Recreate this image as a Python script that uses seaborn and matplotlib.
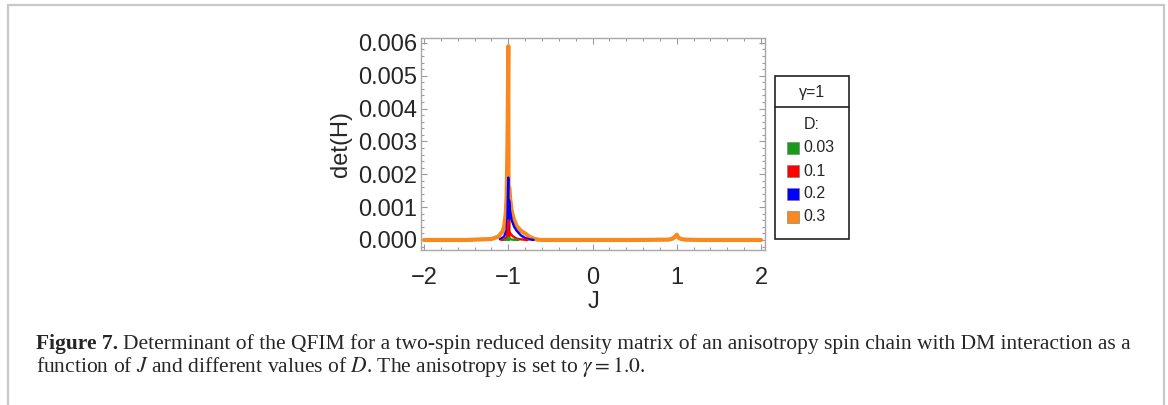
import numpy as np
import pandas as pd
import matplotlib
matplotlib.use("Agg")
import matplotlib.pyplot as plt
import seaborn as sns
from matplotlib.patches import Rectangle
from matplotlib.lines import Line2D
from matplotlib.ticker import MultipleLocator, FormatStrFormatter

# ---------------- data ----------------
# (the smaller curves are zero outside the shown J ranges, where the orange curve hides them)
D_LABELS = ["0.03", "0.1", "0.2", "0.3"]
COLORS = ["#1a9a1a", "#ff0000", "#0000ff", "#f7891f"]
GAMMA_LABEL = "γ=1"

J_D003 = [-1.04, -1.03, -1.01, -1.0, -0.996, -0.99, -0.97, -0.95, -0.9, -0.88]
DET_D003 = [0.0, 0.000003, 0.00002, 0.00008, 0.0, 0.00003, 0.00002, 0.00001, 0.000003, 0.0]

J_D01 = [-1.08, -1.05, -1.02, -1.01, -1.0, -0.996, -0.99, -0.97, -0.95, -0.92, -0.9,
         -0.85, -0.8, -0.77]
DET_D01 = [0.0, 0.00001, 0.00008, 0.0002, 0.0006, 0.00001, 0.00025, 0.00018, 0.00012,
           0.00007, 0.00004, 0.00002, 0.000005, 0.0]

J_D02 = [-1.1, -1.05, -1.02, -1.01, -1.0, -0.996, -0.99, -0.98, -0.96, -0.93,
         -0.9, -0.85, -0.8, -0.75, -0.7]
DET_D02 = [0.00002, 0.0001, 0.0003, 0.0007, 0.0019, 0.00002, 0.0012, 0.0009,
           0.0006, 0.0004, 0.00028, 0.00014, 0.00006, 0.00002, 0.0]

J_D03 = [-2.0, -1.5, -1.2, -1.12, -1.07, -1.05, -1.03, -1.02, -1.01, -1.005, -1.0, -0.996,
         -0.99, -0.98, -0.96, -0.95, -0.93, -0.9, -0.85, -0.8, -0.75, -0.7, -0.65, -0.6,
         -0.4, 0.0, 0.5, 0.9, 0.95, 0.98, 1.0, 1.02, 1.05, 1.1, 1.3, 2.0]
DET_D03 = [0.0, 0.0, 0.00003, 0.0001, 0.00025, 0.0004, 0.0008, 0.0013, 0.0028, 0.0042,
           0.0059, 0.00005, 0.0016, 0.0013, 0.0009, 0.00078, 0.0006, 0.00042, 0.00028,
           0.0002, 0.0001, 0.00004, 0.00001, 0.0, 0.0, 0.0, 0.0, 0.00001, 0.00004,
           0.0001, 0.00016, 0.00007, 0.00003, 0.00001, 0.0, 0.0]

SERIES = [(J_D003, DET_D003), (J_D01, DET_D01), (J_D02, DET_D02), (J_D03, DET_D03)]
LINE_WIDTHS = [1.7, 1.7, 1.7, 3.0]

X_LABEL = "J"
Y_LABEL = "det(H)"
CAPTION_BOLD = "Figure 7."
CAPTION_1 = ("Determinant of the QFIM for a two-spin reduced density matrix of an anisotropy "
             "spin chain with DM interaction as a")
CAPTION_2 = ("function of $J$ and different values of $D$. The anisotropy is set to "
             "$\\gamma = 1.0$.")

# ---------------- style ----------------
sns.set_style("ticks")
plt.rcParams["font.family"] = ["Liberation Sans", "DejaVu Sans"]
plt.rcParams["mathtext.fontset"] = "stix"

W, H = 1168, 405
fig = plt.figure(figsize=(W / 100, H / 100), dpi=100)


def fx(x):
    return x / W


def fy(y):
    return 1 - y / H


ax = fig.add_axes([fx(421), fy(250), fx(765) - fx(421), fy(38) - fy(250)])

# widest curve first, smaller ones drawn over it
order = [3, 2, 1, 0]
for z, k in enumerate(order):
    jj, dd = SERIES[k]
    df = pd.DataFrame({"J": jj, "det": dd})
    sns.lineplot(data=df, x="J", y="det", ax=ax, color=COLORS[k], linewidth=LINE_WIDTHS[k],
                 estimator=None, sort=False, legend=False, zorder=2 + z)

ax.set_xlim(-2.036, 2.047)
ax.set_ylim(-0.000305, 0.00615)
ax.xaxis.set_major_locator(MultipleLocator(1))
ax.xaxis.set_minor_locator(MultipleLocator(0.2))
ax.yaxis.set_major_locator(MultipleLocator(0.001))
ax.yaxis.set_minor_locator(MultipleLocator(0.0002))
ax.yaxis.set_major_formatter(FormatStrFormatter("%.3f"))
ax.tick_params(which="both", direction="in", top=True, right=True, color="#9a9a9a",
               labelsize=17, width=0.8)
ax.tick_params(which="major", length=4.5)
ax.tick_params(which="minor", length=2.5)
ax.tick_params(axis="y", which="major", pad=3)
ax.tick_params(axis="x", which="major", pad=12.5)
for sp in ax.spines.values():
    sp.set_color("#a8a8a8")
    sp.set_linewidth(1.0)
ax.set_xlabel(X_LABEL, fontsize=17, labelpad=1)
ax.set_ylabel(Y_LABEL, fontsize=17, labelpad=4)

# ---------------- legend box ----------------
fig.patches.append(Rectangle((fx(775), fy(239)), fx(849) - fx(775), fy(76) - fy(239),
                             transform=fig.transFigure, fill=False, ec="#222222", lw=1.2))
fig.lines.append(Line2D([fx(775), fx(849)], [fy(107), fy(107)], transform=fig.transFigure,
                        color="#222222", lw=1.2))
fig.text(fx(812), fy(92), GAMMA_LABEL, ha="center", va="center", fontsize=11.5)
fig.text(fx(812), fy(124), "D:", ha="center", va="center", fontsize=11.5)
for i, (lab, col) in enumerate(zip(D_LABELS, COLORS)):
    yc = 148 + i * 23
    fig.patches.append(Rectangle((fx(787), fy(yc + 6)), fx(799) - fx(787), fy(yc - 6) - fy(yc + 6),
                                 transform=fig.transFigure, fc=col, ec="#777777", lw=0.4))
    fig.text(fx(803), fy(yc), lab, ha="left", va="center", fontsize=11.5)

# ---------------- frame and caption ----------------
fig.patches.append(Rectangle((fx(8), -0.3), fx(1164) - fx(8), fy(5) + 0.3,
                             transform=fig.transFigure, fill=False, ec="#c8c8c8", lw=1.6,
                             clip_on=False))

CAP_SIZE = 15.5
t1 = fig.text(fx(36), fy(349), CAPTION_BOLD, fontsize=CAP_SIZE, family="Liberation Serif",
              weight="bold", ha="left", va="baseline")
ax.annotate(CAPTION_1, xy=(1, 0), xycoords=t1, xytext=(3.5, 0), textcoords="offset points",
            fontsize=CAP_SIZE, family="Liberation Serif", ha="left", va="bottom",
            annotation_clip=False)
fig.text(fx(36), fy(372), CAPTION_2, fontsize=CAP_SIZE, family="Liberation Serif",
         ha="left", va="baseline")

fig.savefig("out.png", dpi=100)
